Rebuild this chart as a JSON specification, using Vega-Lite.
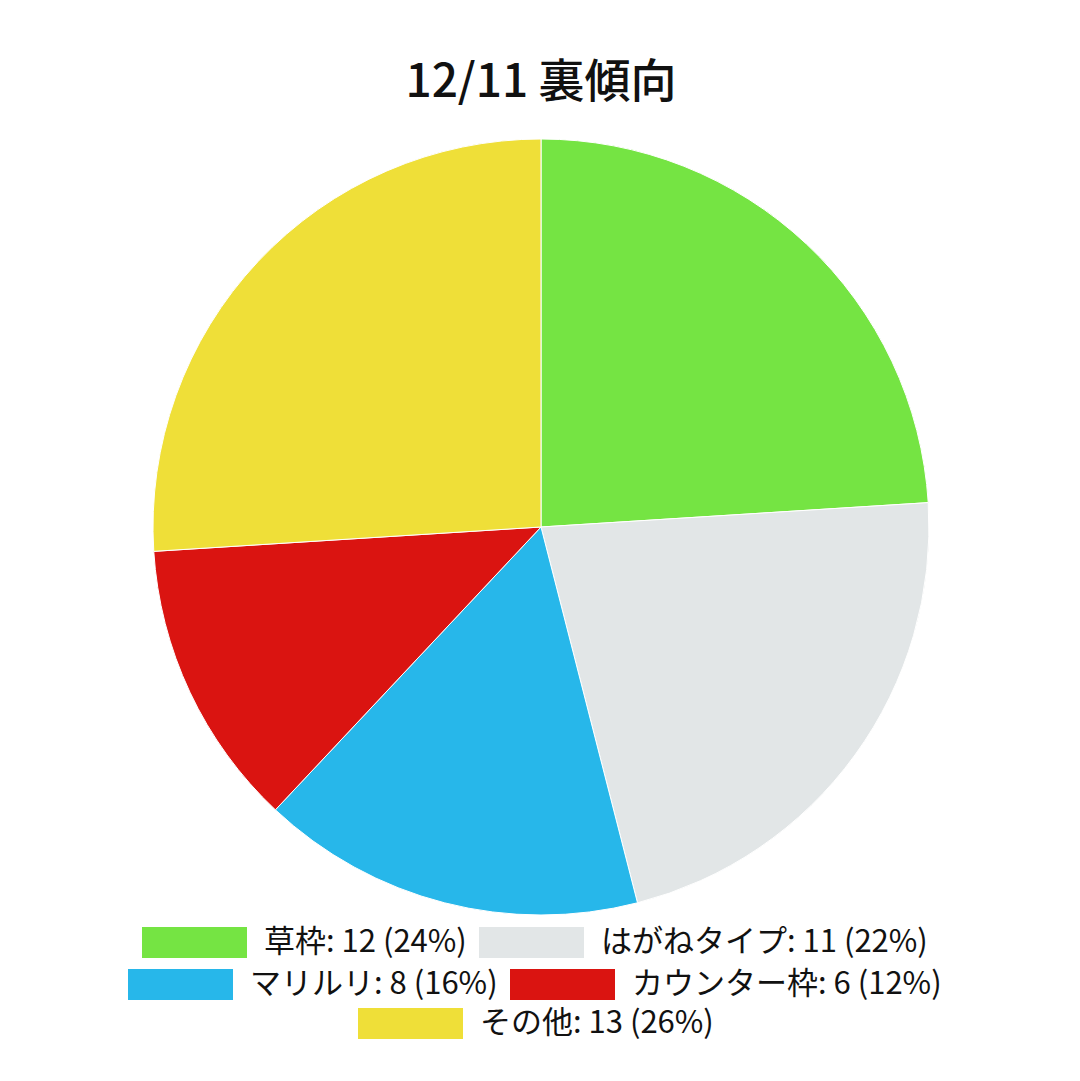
{
  "$schema": "https://vega.github.io/schema/vega-lite/v6.json",
  "autosize": {"type": "none"},
  "padding": {"top": 139, "left": 153, "right": 151, "bottom": 166},
  "width": 776,
  "height": 776,
  "title": {
    "text": "12/11 裏傾向",
    "font": "Noto Sans CJK JP",
    "fontSize": 46,
    "fontWeight": 500,
    "color": "#111111",
    "anchor": "middle",
    "baseline": "alphabetic",
    "offset": -6
  },
  "data": {
    "values": [
      {"idx": 1, "category": "草枠", "count": 12, "label": "草枠: 12 (24%)"},
      {"idx": 2, "category": "はがねタイプ", "count": 11, "label": "はがねタイプ: 11 (22%)"},
      {"idx": 3, "category": "マリルリ", "count": 8, "label": "マリルリ: 8 (16%)"},
      {"idx": 4, "category": "カウンター枠", "count": 6, "label": "カウンター枠: 6 (12%)"},
      {"idx": 5, "category": "その他", "count": 13, "label": "その他: 13 (26%)"}
    ]
  },
  "layer": [
    {
      "mark": {"type": "arc", "stroke": "white", "strokeWidth": 1},
      "encoding": {
        "theta": {"field": "count", "type": "quantitative", "stack": true},
        "order": {"field": "idx", "type": "quantitative", "sort": "ascending"},
        "color": {
          "field": "label",
          "type": "nominal",
          "sort": null,
          "scale": {
            "domain": ["草枠: 12 (24%)", "はがねタイプ: 11 (22%)", "マリルリ: 8 (16%)", "カウンター枠: 6 (12%)", "その他: 13 (26%)"],
            "range": ["#75E443", "#E2E6E7", "#27B7EA", "#DA1411", "#EFDF38"]
          },
          "legend": {
            "orient": "none",
            "legendX": -11,
            "legendY": 751,
            "values": ["草枠: 12 (24%)", "はがねタイプ: 11 (22%)"]
          }
        }
      }
    },
    {
      "mark": {"type": "arc", "stroke": "white", "strokeWidth": 1},
      "encoding": {
        "theta": {"field": "count", "type": "quantitative", "stack": true},
        "order": {"field": "idx", "type": "quantitative", "sort": "ascending"},
        "color": {
          "field": "label",
          "type": "nominal",
          "sort": null,
          "scale": {
            "domain": ["草枠: 12 (24%)", "はがねタイプ: 11 (22%)", "マリルリ: 8 (16%)", "カウンター枠: 6 (12%)", "その他: 13 (26%)"],
            "range": ["#75E443", "#E2E6E7", "#27B7EA", "#DA1411", "#EFDF38"]
          },
          "legend": {
            "orient": "none",
            "legendX": -25,
            "legendY": 793,
            "values": ["マリルリ: 8 (16%)", "カウンター枠: 6 (12%)"]
          }
        }
      }
    },
    {
      "mark": {"type": "arc", "stroke": "white", "strokeWidth": 1},
      "encoding": {
        "theta": {"field": "count", "type": "quantitative", "stack": true},
        "order": {"field": "idx", "type": "quantitative", "sort": "ascending"},
        "color": {
          "field": "label",
          "type": "nominal",
          "sort": null,
          "scale": {
            "domain": ["草枠: 12 (24%)", "はがねタイプ: 11 (22%)", "マリルリ: 8 (16%)", "カウンター枠: 6 (12%)", "その他: 13 (26%)"],
            "range": ["#75E443", "#E2E6E7", "#27B7EA", "#DA1411", "#EFDF38"]
          },
          "legend": {
            "orient": "none",
            "legendX": 205,
            "legendY": 832,
            "values": ["その他: 13 (26%)"]
          }
        }
      }
    }
  ],
  "resolve": {
    "scale": {"color": "independent"},
    "legend": {"color": "independent"}
  },
  "config": {
    "view": {"stroke": null},
    "legend": {
      "title": null,
      "direction": "horizontal",
      "symbolType": "M-1,-0.295L1,-0.295L1,0.295L-1,0.295Z",
      "symbolSize": 11025,
      "symbolStrokeWidth": 0,
      "symbolOpacity": 1,
      "labelFont": "Noto Sans CJK JP",
      "labelFontSize": 31,
      "labelColor": "#111111",
      "labelOffset": 17,
      "labelLimit": 600,
      "columnPadding": 12,
      "rowPadding": 10
    }
  }
}
